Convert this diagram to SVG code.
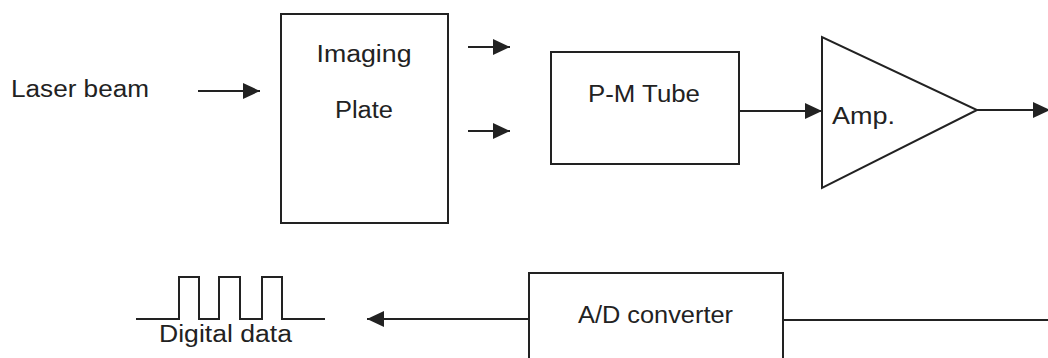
<svg xmlns="http://www.w3.org/2000/svg" width="1048" height="358" viewBox="0 0 1048 358">
<style>
.box{fill:none;stroke:#222;stroke-width:2}
.ln{fill:none;stroke:#222;stroke-width:2}
.t{font-family:"Liberation Sans",Arial,sans-serif;font-size:23px;fill:#222}
</style>
<defs>
<marker id="ah" markerUnits="userSpaceOnUse" markerWidth="18" markerHeight="16" refX="17" refY="8" orient="auto">
<path d="M0,0 L17,8 L0,16 Z" fill="#222"/>
</marker>
</defs>
<rect width="1048" height="358" fill="#fff"/>
<g id="laser-label"><text class="t" x="11" y="97" textLength="138" lengthAdjust="spacingAndGlyphs">Laser beam</text></g>
<g id="imaging-plate">
<rect class="box" x="281" y="14" width="167" height="209"/>
<text class="t" x="364" y="62" text-anchor="middle" textLength="95" lengthAdjust="spacingAndGlyphs">Imaging</text>
<text class="t" x="364" y="118" text-anchor="middle" textLength="58" lengthAdjust="spacingAndGlyphs">Plate</text>
</g>
<g id="pm-tube">
<rect class="box" x="551" y="52" width="188" height="112"/>
<text class="t" x="644" y="102" text-anchor="middle" textLength="112" lengthAdjust="spacingAndGlyphs">P-M Tube</text>
</g>
<g id="amp">
<polygon class="box" points="822,37 822,188 977,110"/>
<text class="t" x="832" y="124" textLength="63" lengthAdjust="spacingAndGlyphs">Amp.</text>
</g>
<g id="ad-converter">
<rect class="box" x="529" y="273" width="254" height="100"/>
<text class="t" x="578" y="323" textLength="155" lengthAdjust="spacingAndGlyphs">A/D converter</text>
</g>
<g id="digital-data">
<polyline class="ln" points="136,319 179,319 179,277 199,277 199,319 219,319 219,277 240,277 240,319 262,319 262,277 282,277 282,319 325,319"/>
<text class="t" x="159" y="342" textLength="133" lengthAdjust="spacingAndGlyphs">Digital data</text>
</g>
<g id="connectors">
<line class="ln" x1="198" y1="91" x2="260" y2="91" marker-end="url(#ah)"/>
<line class="ln" x1="468" y1="47" x2="510" y2="47" marker-end="url(#ah)"/>
<line class="ln" x1="468" y1="131" x2="510" y2="131" marker-end="url(#ah)"/>
<line class="ln" x1="739" y1="111" x2="822" y2="111" marker-end="url(#ah)"/>
<line class="ln" x1="977" y1="110" x2="1050" y2="110" marker-end="url(#ah)"/>
<line class="ln" x1="783" y1="320" x2="1048" y2="320"/>
<line class="ln" x1="529" y1="319" x2="367" y2="319" marker-end="url(#ah)"/>
</g>
</svg>
